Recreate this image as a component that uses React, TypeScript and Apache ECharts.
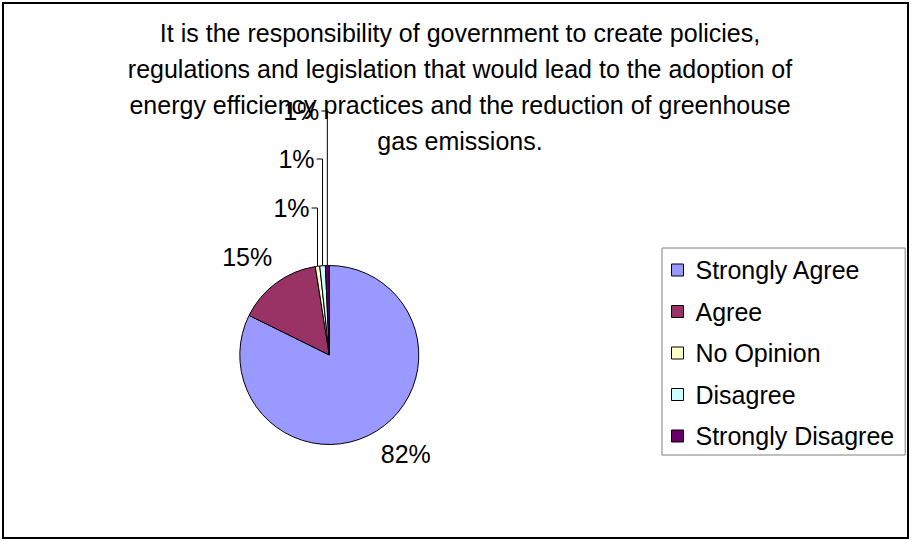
import React, { useEffect, useRef } from "react";
import * as echarts from "echarts";

const titleLines = [
  "It is the responsibility of government to create policies,",
  "regulations and legislation that would lead to the adoption of",
  "energy efficiency practices and the reduction of greenhouse",
  "gas emissions.",
];
const categories = ["Strongly Agree", "Agree", "No Opinion", "Disagree", "Strongly Disagree"];
const values = [82.3, 15.2, 0.8, 1.0, 0.7];
const colors = ["#9999FF", "#993366", "#FFFFCC", "#CCFFFF", "#660066"];

const FONT = "'Liberation Sans', Arial, sans-serif";

export default function App() {
  const ref = useRef<HTMLDivElement>(null);
  useEffect(() => {
    if (!ref.current) return;
    const chart = echarts.init(ref.current, undefined, { renderer: "svg" });
    // label heights for the stacked leader-line labels of the small slices
    const smallLabelY: Record<number, number> = { 2: 208, 3: 159, 4: 111 };
    const lineSettings: Record<number, any> = {
      0: { show: false, length: 27, length2: -15 },
      1: { show: false, length: 32, length2: -20 },
      2: { show: true, length: 20, length2: 5 },
      3: { show: true, length: 20, length2: 5 },
      4: { show: true, length: 20, length2: 5 },
    };
    chart.setOption({
      animation: false,
      textStyle: { fontFamily: FONT },
      title: {
        text: titleLines.join("\n"),
        left: 460,
        top: 15,
        padding: 0,
        textAlign: "center",
        textStyle: {
          fontFamily: FONT,
          fontSize: 25,
          fontWeight: "normal",
          color: "#000",
          lineHeight: 36,
        },
      },
      legend: {
        orient: "vertical",
        left: 662,
        top: 248,
        data: categories,
        icon: "rect",
        itemWidth: 12,
        itemHeight: 12,
        itemGap: 16.5,
        padding: [9.5, 11, 6.5, 9],
        borderColor: "#808080",
        borderWidth: 1,
        selectedMode: false,
        itemStyle: { borderColor: "#000", borderWidth: 1 },
        textStyle: {
          fontFamily: FONT,
          fontSize: 25,
          lineHeight: 25,
          color: "#000",
          padding: [0, 0, 0, 7],
        },
      },
      graphic: [
        {
          type: "rect",
          shape: { x: 3, y: 3, width: 905, height: 535 },
          style: { fill: "none", stroke: "#000", lineWidth: 2 },
          silent: true,
        },
      ],
      series: [
        {
          type: "pie",
          center: [329.3, 355],
          radius: 89.5,
          startAngle: 90,
          clockwise: true,
          avoidLabelOverlap: false,
          emphasis: { disabled: true },
          itemStyle: { borderColor: "#000", borderWidth: 1 },
          label: {
            show: true,
            position: "outside",
            fontFamily: FONT,
            fontSize: 25,
            color: "#000",
            formatter: (p: any) => Math.round(p.percent) + "%",
          },
          labelLine: { lineStyle: { color: "#000", width: 1 } },
          labelLayout: (params: any) => {
            const i = params.dataIndex;
            const ty = smallLabelY[i];
            if (ty === undefined || !params.labelLinePoints) return {};
            const p0 = params.labelLinePoints[0];
            return {
              x: p0[0] - 8,
              y: ty,
              align: "right",
              verticalAlign: "middle",
              labelLinePoints: [
                [p0[0], p0[1]],
                [p0[0], ty],
                [p0[0] - 6, ty],
              ],
            };
          },
          data: categories.map((name, i) => ({
            name,
            value: values[i],
            itemStyle: { color: colors[i] },
            labelLine: { ...lineSettings[i], lineStyle: { color: "#000", width: 1 } },
          })),
        },
      ],
    });
    return () => chart.dispose();
  }, []);
  return (
    <div
      ref={ref}
      style={{ position: "absolute", left: 0, top: 0, width: 912, height: 540, background: "#fff" }}
    />
  );
}
